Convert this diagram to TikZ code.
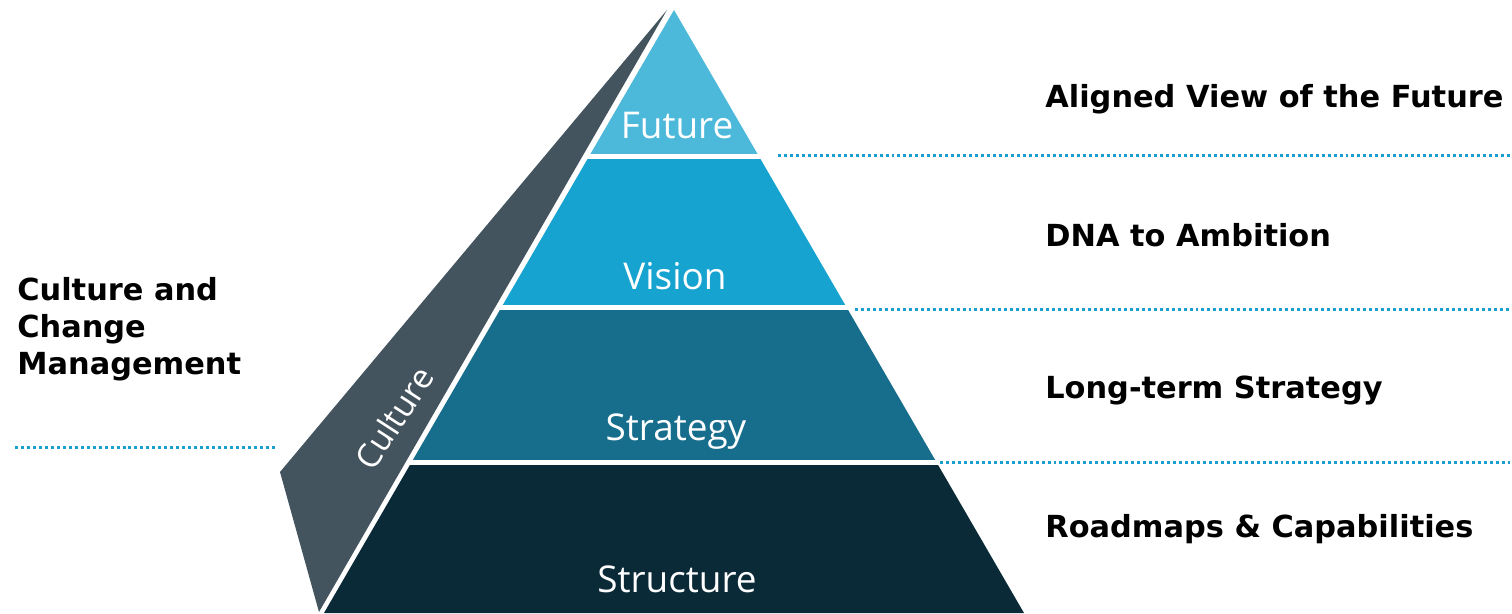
\documentclass[tikz,border=0pt]{standalone}
\usepackage{fontspec}
\setmainfont{DejaVu Sans}
\newfontfamily\layerfont{Open Sans}
\usepackage{xcolor}
\usetikzlibrary{positioning}

\definecolor{futurecol}{HTML}{4CB8DA}
\definecolor{visioncol}{HTML}{17A3D0}
\definecolor{strategycol}{HTML}{176E8C}
\definecolor{structurecol}{HTML}{0B2A38}
\definecolor{culturecol}{HTML}{44545F}
\definecolor{dotcol}{HTML}{1A9FD0}

\tikzset{
  layerlabel/.style={text=white, inner sep=0pt, anchor=base, font=\layerfont\fontsize{21}{25}\selectfont},
  sidelabel/.style={inner sep=0pt, anchor=base west, font=\bfseries\fontsize{17.3}{21}\selectfont},
  dotline/.style={dotcol, line width=1.7pt, dash pattern=on 1.7pt off 1.7pt},
}

\begin{document}
\begin{tikzpicture}[x=0.02cm, y=-0.02cm]
  \useasboundingbox (0,0) rectangle (1512,613);

  % culture panel
  \fill[culturecol] (667,10) -- (280,472) -- (319,612) -- cycle;

  % pyramid bands
  \begin{scope}
    \clip (674,10) -- (324,613) -- (1024,613) -- cycle;
    \fill[futurecol] (300,0) rectangle (1100,154);
    \fill[visioncol] (300,159) rectangle (1100,305);
    \fill[strategycol] (300,310) rectangle (1100,460);
    \fill[structurecol] (300,465) rectangle (1100,620);
  \end{scope}

  \node[layerlabel] (future) at (677,138) {Future};
  \node[layerlabel] (vision) at (675,289) {Vision};
  \node[layerlabel] (strategy) at (676,440) {Strategy};
  \node[layerlabel] (structure) at (677,592) {Structure};
  \node[layerlabel, anchor=center, rotate=57, font=\layerfont\fontsize{19}{23}\selectfont] (culture) at (394,418) {Culture};

  % right side
  \node[sidelabel] (aligned) at (1045,107) {Aligned View of the Future};
  \node[sidelabel] (dna) at (1045,246) {DNA to Ambition};
  \node[sidelabel] (longterm) at (1045,398) {Long-term Strategy};
  \node[sidelabel] (roadmaps) at (1045,537) {Roadmaps \& Capabilities};

  % left side
  \node[sidelabel, anchor=north west, align=left] (change) at (17,277) {Culture and\\Change\\Management};

  % dotted lines
  \coordinate (r1a) at (778,155);  \coordinate (r1b) at (1512,155);
  \coordinate (r2a) at (855,309);  \coordinate (r2b) at (1512,309);
  \coordinate (r3a) at (940,462);  \coordinate (r3b) at (1512,462);
  \coordinate (l1a) at (15,447);   \coordinate (l1b) at (276,447);
  \draw[dotline] (r1a) -- (r1b);
  \draw[dotline] (r2a) -- (r2b);
  \draw[dotline] (r3a) -- (r3b);
  \draw[dotline] (l1a) -- (l1b);
\end{tikzpicture}
\end{document}
